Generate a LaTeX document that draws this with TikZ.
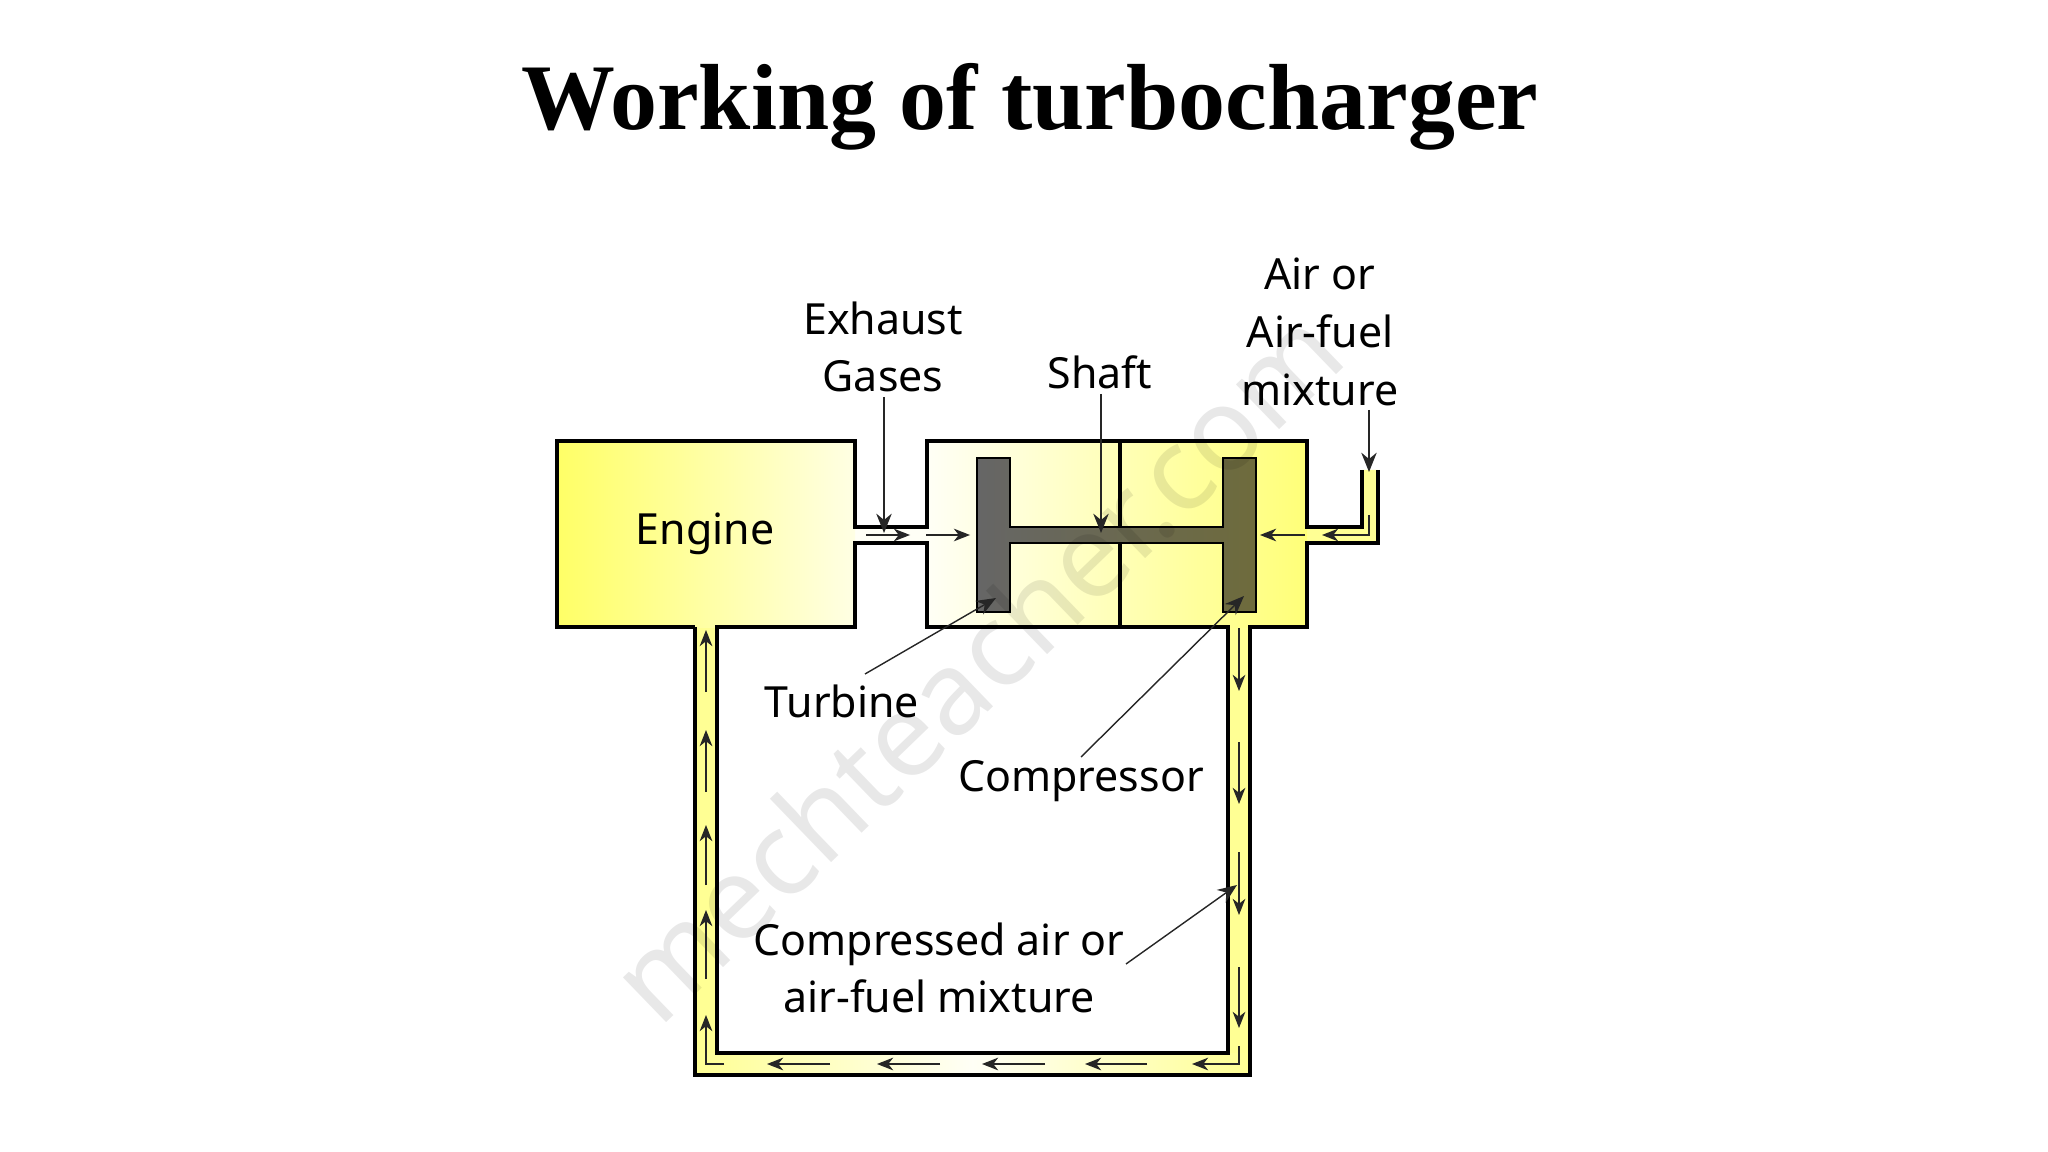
\documentclass[tikz,border=0pt]{standalone}
\usepackage{fontspec}
\setmainfont{Noto Sans}
\newfontfamily\titlefont{Liberation Serif}
\usetikzlibrary{arrows.meta}
\definecolor{duct yellow}{HTML}{FFFF94}
\definecolor{engine yellow}{HTML}{FFFF66}
\definecolor{engine pale}{HTML}{FFFFE4}
\definecolor{case yellow}{HTML}{FFFF78}
\definecolor{pale yellow}{HTML}{FFFFF6}
\definecolor{blade left}{HTML}{666666}
\definecolor{blade mid}{HTML}{A5A57C}
\definecolor{blade right}{HTML}{6E6B3C}
\begin{document}
\begin{tikzpicture}[x=0.01cm,y=-0.01cm,thick,
	wall/.style={draw=black,line width=1pt,line join=miter},
	flow/.style={-{Stealth[length=4.6pt,width=3.6pt,inset=1.4pt]},line width=0.35pt,draw=black!85},
	leader/.style={-{Stealth[length=5.5pt,width=4.4pt,inset=1.8pt]},line width=0.4pt,draw=black!85},
	label node/.style={font=\fontsize{12.2}{16.4}\selectfont,align=center,inner sep=0pt}]
	\useasboundingbox (0,0) rectangle (2048,1152);
	% title
	\node[font=\titlefont\bfseries\fontsize{26.7}{32}\selectfont,inner sep=0pt] (title) at (1030,107) {Working of turbocharger};
	% pipes
	\fill[duct yellow] (695,627) rectangle (717,1060);
	\fill[duct yellow] (1228,627) rectangle (1250,1060);
	\fill[left color=duct yellow,right color=duct yellow,middle color=pale yellow] (695,1053) rectangle (1250,1075);
	\fill[duct yellow] (1307,527) -- (1362,527) -- (1362,470) -- (1378,470) -- (1378,543) -- (1307,543) -- cycle;
	\fill[pale yellow] (855,527) rectangle (927,543);
	% engine and housing
	\fill[left color=engine yellow,right color=engine pale] (557,441) rectangle (855,627);
	\fill[left color=pale yellow,right color=case yellow] (927,441) rectangle (1307,627);
	\draw[wall] (695,627) -- (557,627) -- (557,441) -- (855,441) -- (855,527) -- (927,527) -- (927,441) -- (1307,441) -- (1307,527) -- (1362,527) -- (1362,470);
	\draw[wall] (717,627) -- (855,627) -- (855,543) -- (927,543) -- (927,627) -- (1228,627) -- (1228,1053) -- (717,1053) -- cycle;
	\draw[wall] (1378,470) -- (1378,543) -- (1307,543) -- (1307,627) -- (1250,627) -- (1250,1075) -- (695,1075) -- (695,627);
	\draw[wall] (1120,441) -- (1120,527) (1120,543) -- (1120,627);
	% turbine, shaft, compressor
	\path[wall,line width=0.8pt,left color=blade left,middle color=blade mid,right color=blade right] (977,458) -- (1010,458) -- (1010,527) -- (1223,527) -- (1223,458) -- (1256,458) -- (1256,612) -- (1223,612) -- (1223,543) -- (1010,543) -- (1010,612) -- (977,612) -- cycle;
	% watermark
	\node[rotate=44,text=black,text opacity=0.09,font=\fontsize{33}{36}\selectfont,inner sep=0pt] (stamp) at (975,664) {mechteacher.com};
	% labels
	\node[label node] (engine) at (705,534) {Engine};
	\node[label node] (exhaust) at (883,347) {Exhaust\\Gases};
	\node[label node] (shaft) at (1100,372) {Shaft};
	\node[label node] (air) at (1320,332) {Air or\\Air-fuel\\mixture};
	\node[label node] (turbine) at (842,701) {Turbine};
	\node[label node] (compressor) at (1081,781) {Compressor};
	\node[label node] (compressed) at (939,968) {Compressed air or\\air-fuel mixture};
	% leaders
	\coordinate (exhaust tip) at (884,533);
	\coordinate (shaft tip) at (1101,533);
	\coordinate (air tip) at (1369,472);
	\coordinate (turbine tip) at (996,598);
	\coordinate (compressor tip) at (1244,596);
	\coordinate (compressed tip) at (1237,885);
	\coordinate (exhaust tail) at (884,397);
	\coordinate (shaft tail) at (1101,394);
	\coordinate (air tail) at (1369,410);
	\coordinate (turbine tail) at (865,674);
	\coordinate (compressor tail) at (1081,757);
	\coordinate (compressed tail) at (1126,964);
	\draw[leader] (exhaust tail) -- (exhaust tip);
	\draw[leader] (shaft tail) -- (shaft tip);
	\draw[leader] (air tail) -- (air tip);
	\draw[leader] (turbine tail) -- (turbine tip);
	\draw[leader] (compressor tail) -- (compressor tip);
	\draw[leader] (compressed tail) -- (compressed tip);
	% flow arrows
	\foreach \xa/\xb in {866/910,926/970,1305/1260}
		\draw[flow] (\xa,535) -- (\xb,535);
	\draw[flow] (1369,515) -- (1369,535) -- (1322,535);
	\foreach \ya/\yb in {628/691,742/804,852/915,967/1028}
		\draw[flow] (1239,\ya) -- (1239,\yb);
	\draw[flow] (1239,1046) -- (1239,1064) -- (1192,1064);
	\foreach \xa/\xb in {1147/1085,1045/982,940/877,830/767}
		\draw[flow] (\xa,1064) -- (\xb,1064);
	\draw[flow] (724,1064) -- (706,1064) -- (706,1015);
	\foreach \ya/\yb in {979/910,885/825,792/730,692/630}
		\draw[flow] (706,\ya) -- (706,\yb);
\end{tikzpicture}
\end{document}
